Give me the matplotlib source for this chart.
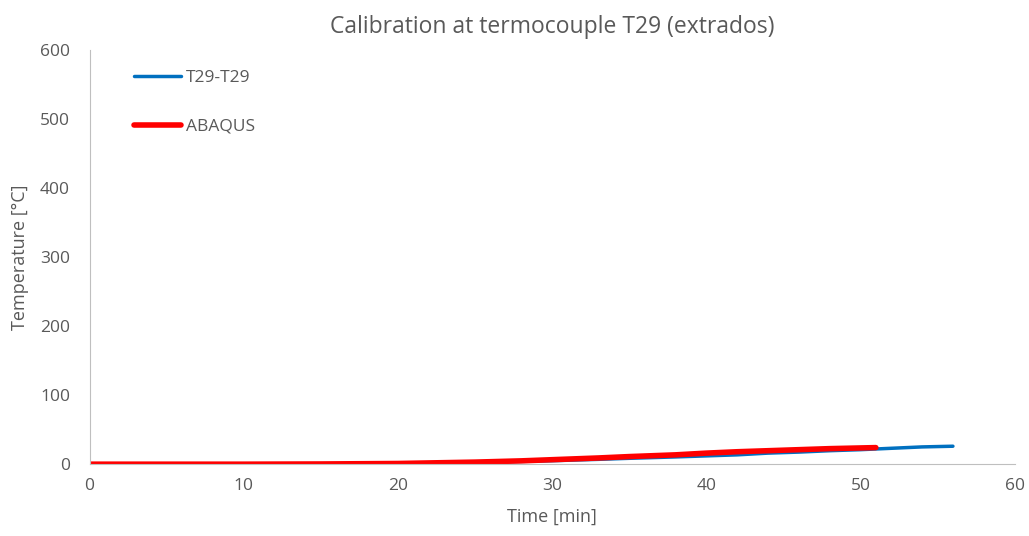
import matplotlib
matplotlib.use("Agg")
import matplotlib.pyplot as plt

# measured thermocouple T29
t_meas = [0, 5, 10, 15, 20, 25, 28, 30, 33, 35, 38, 40, 42, 44, 46, 48, 50, 52, 54, 56]
T_meas = [0, 0, 0, 0.3, 1, 2.5, 4, 5, 7, 8.5, 10.5, 12, 13.5, 16, 17.5, 19.5, 21, 23, 25, 26]

# ABAQUS model
t_abq = [0, 5, 10, 15, 20, 25, 28, 30, 33, 35, 38, 40, 42, 44, 46, 48, 51]
T_abq = [0, 0, 0, 0.3, 1, 3, 4.8, 6.5, 9, 11, 13.5, 16, 18, 19.5, 21, 22.5, 24]

plt.rcParams['font.family'] = ['Open Sans', 'DejaVu Sans']
grey = '#595959'

fig, ax = plt.subplots(figsize=(10.29, 5.36), dpi=100)
fig.subplots_adjust(left=0.087, right=0.986, top=0.907, bottom=0.134)

ax.plot(t_meas, T_meas, color='#0070C0', lw=2.5, label='T29-T29', solid_capstyle='round')
ax.plot(t_abq, T_abq, color='#FF0000', lw=4, label='ABAQUS', solid_capstyle='round')

ax.set_xlim(0, 60)
ax.set_ylim(0, 600)
ax.set_xticks(range(0, 61, 10))
ax.set_yticks(range(0, 601, 100))
ax.set_title('Calibration at termocouple T29 (extrados)', fontsize=16.5, color=grey, pad=12)
ax.set_xlabel('Time [min]', fontsize=13, color=grey, labelpad=10)
ax.set_ylabel('Temperature [°C]', fontsize=13, color=grey, labelpad=8)
ax.tick_params(length=0, labelsize=12.5, labelcolor=grey)
ax.tick_params(axis='y', pad=14)
ax.tick_params(axis='x', pad=10)

for s in ['top', 'right']:
    ax.spines[s].set_visible(False)
for s in ['left', 'bottom']:
    ax.spines[s].set_color('#BFBFBF')

ax.legend(loc='upper left', bbox_to_anchor=(0.031, 0.99), frameon=False, fontsize=12.5,
          labelcolor=grey, handlelength=2.7, handletextpad=0.3, labelspacing=1.9)

fig.savefig('out.png')
